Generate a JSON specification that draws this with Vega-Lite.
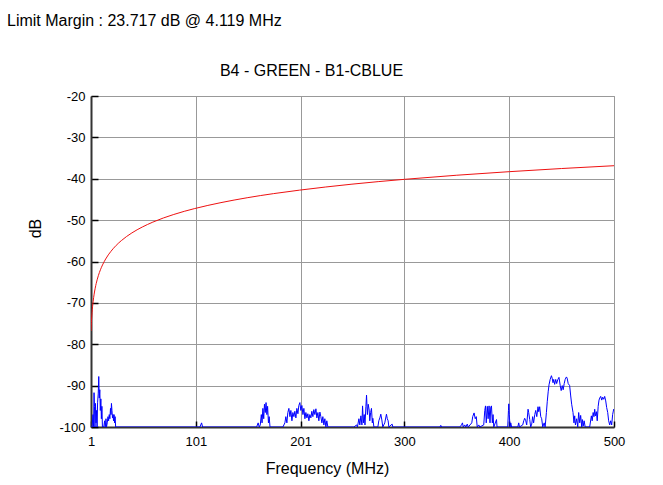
{
  "$schema": "https://vega.github.io/schema/vega-lite/v6.json",
  "width": 523,
  "height": 331,
  "autosize": {"type": "none"},
  "padding": {"left": 91, "top": 96, "right": 49, "bottom": 58},
  "background": "white",
  "title": {
    "text": "Limit Margin : 23.717 dB @ 4.119 MHz",
    "anchor": "start",
    "frame": "group",
    "dx": -84,
    "offset": 20,
    "baseline": "alphabetic",
    "font": "Liberation Sans",
    "fontSize": 16,
    "fontWeight": "normal",
    "color": "#000000"
  },
  "config": {
    "view": {"stroke": "#999999", "strokeWidth": 1},
    "axis": {
      "labelFont": "Liberation Sans",
      "labelFontSize": 13,
      "labelColor": "#000000",
      "titleFont": "Liberation Sans",
      "titleFontSize": 16,
      "titleFontWeight": "normal",
      "titleColor": "#000000"
    }
  },
  "datasets": {
    "limit": [
      {"f": 1, "dB": -76.8}, {"f": 1.25, "dB": -75.37}, {"f": 1.5, "dB": -74.19}, {"f": 2, "dB": -72.35},
      {"f": 2.5, "dB": -70.91}, {"f": 3, "dB": -69.74}, {"f": 4, "dB": -67.89}, {"f": 5, "dB": -66.46},
      {"f": 6, "dB": -65.28}, {"f": 8, "dB": -63.43}, {"f": 10, "dB": -62.0}, {"f": 12, "dB": -60.83},
      {"f": 15, "dB": -59.39}, {"f": 20, "dB": -57.55}, {"f": 25, "dB": -56.11}, {"f": 30, "dB": -54.94},
      {"f": 40, "dB": -53.09}, {"f": 50, "dB": -51.66}, {"f": 60, "dB": -50.48}, {"f": 80, "dB": -48.63},
      {"f": 100, "dB": -47.2}, {"f": 125, "dB": -45.77}, {"f": 150, "dB": -44.59}, {"f": 175, "dB": -43.6},
      {"f": 200, "dB": -42.75}, {"f": 250, "dB": -41.31}, {"f": 300, "dB": -40.14}, {"f": 350, "dB": -39.15},
      {"f": 400, "dB": -38.29}, {"f": 450, "dB": -37.53}, {"f": 500, "dB": -36.85}
    ],
    "trace": [
      {"f": 1, "dB": -100}, {"f": 2.0, "dB": -100}, {"f": 2.9, "dB": -97}, {"f": 3.4, "dB": -100},
      {"f": 3.9, "dB": -91.7}, {"f": 4.3, "dB": -95}, {"f": 4.8, "dB": -100}, {"f": 5.3, "dB": -94.3},
      {"f": 5.8, "dB": -99}, {"f": 6.3, "dB": -96}, {"f": 6.8, "dB": -100}, {"f": 7.3, "dB": -94},
      {"f": 7.9, "dB": -92}, {"f": 8.4, "dB": -87.8}, {"f": 8.9, "dB": -93}, {"f": 9.4, "dB": -91},
      {"f": 9.9, "dB": -96}, {"f": 10.4, "dB": -93.2}, {"f": 10.9, "dB": -98}, {"f": 11.4, "dB": -95},
      {"f": 11.9, "dB": -100}, {"f": 13.2, "dB": -100}, {"f": 14, "dB": -98.5}, {"f": 14.6, "dB": -100},
      {"f": 15.3, "dB": -98}, {"f": 15.8, "dB": -100}, {"f": 16.5, "dB": -99}, {"f": 17.2, "dB": -97.5},
      {"f": 17.8, "dB": -98.5}, {"f": 18.4, "dB": -97}, {"f": 19, "dB": -98}, {"f": 19.6, "dB": -95.5},
      {"f": 20.1, "dB": -97}, {"f": 20.5, "dB": -94.3}, {"f": 21, "dB": -96}, {"f": 21.5, "dB": -97.8},
      {"f": 22, "dB": -97}, {"f": 22.5, "dB": -98.5}, {"f": 23, "dB": -97}, {"f": 23.5, "dB": -99},
      {"f": 24, "dB": -97.5}, {"f": 24.5, "dB": -100}, {"f": 105, "dB": -100}, {"f": 106.5, "dB": -99},
      {"f": 107.5, "dB": -100}, {"f": 159, "dB": -100}, {"f": 160.5, "dB": -99}, {"f": 161.5, "dB": -100},
      {"f": 162.5, "dB": -99.5}, {"f": 163.5, "dB": -97}, {"f": 164.2, "dB": -99}, {"f": 165, "dB": -95.5},
      {"f": 165.8, "dB": -98}, {"f": 166.5, "dB": -94.5}, {"f": 167.3, "dB": -96.5}, {"f": 168, "dB": -94.1},
      {"f": 168.8, "dB": -97}, {"f": 169.5, "dB": -95}, {"f": 170.3, "dB": -99}, {"f": 171, "dB": -97.5},
      {"f": 171.8, "dB": -100}, {"f": 184.1, "dB": -100}, {"f": 186, "dB": -99}, {"f": 186.9, "dB": -97.5},
      {"f": 187.9, "dB": -99}, {"f": 188.8, "dB": -96.5}, {"f": 189.8, "dB": -95.5}, {"f": 190.8, "dB": -97.5},
      {"f": 191.7, "dB": -96}, {"f": 192.7, "dB": -98.5}, {"f": 193.6, "dB": -96.5}, {"f": 194.6, "dB": -97.5},
      {"f": 195.5, "dB": -96.2}, {"f": 196.5, "dB": -97.8}, {"f": 197.4, "dB": -95.5}, {"f": 198.4, "dB": -96.8},
      {"f": 199.3, "dB": -94.8}, {"f": 200.3, "dB": -94.1}, {"f": 201.2, "dB": -96}, {"f": 202.2, "dB": -94.8},
      {"f": 203.2, "dB": -97}, {"f": 204.1, "dB": -95.5}, {"f": 205.1, "dB": -98}, {"f": 206, "dB": -96.5},
      {"f": 207, "dB": -97.8}, {"f": 207.9, "dB": -96.8}, {"f": 208.9, "dB": -98.5}, {"f": 209.8, "dB": -97},
      {"f": 210.8, "dB": -97.8}, {"f": 211.7, "dB": -96.2}, {"f": 212.7, "dB": -97.5}, {"f": 213.6, "dB": -95.8},
      {"f": 214.6, "dB": -97}, {"f": 215.6, "dB": -95.6}, {"f": 216.5, "dB": -97.8}, {"f": 217.5, "dB": -96.5},
      {"f": 218.4, "dB": -98.5}, {"f": 219.4, "dB": -96.4}, {"f": 220.3, "dB": -97.5}, {"f": 221.3, "dB": -99},
      {"f": 222.2, "dB": -97.5}, {"f": 223.2, "dB": -99.5}, {"f": 224.1, "dB": -98}, {"f": 225.1, "dB": -100},
      {"f": 226, "dB": -98.5}, {"f": 227, "dB": -100}, {"f": 251.8, "dB": -100}, {"f": 254.4, "dB": -99.5},
      {"f": 255.2, "dB": -100}, {"f": 256.6, "dB": -98}, {"f": 257.5, "dB": -99.5}, {"f": 258.5, "dB": -97.3},
      {"f": 259.5, "dB": -99.5}, {"f": 260.1, "dB": -94.9}, {"f": 260.9, "dB": -99}, {"f": 261.7, "dB": -97},
      {"f": 262.4, "dB": -99.5}, {"f": 263.3, "dB": -95}, {"f": 263.9, "dB": -92.3}, {"f": 264.7, "dB": -97},
      {"f": 265.5, "dB": -94.5}, {"f": 266.4, "dB": -95.9}, {"f": 267, "dB": -98.5}, {"f": 267.8, "dB": -96.5},
      {"f": 268.6, "dB": -95.5}, {"f": 269.4, "dB": -99}, {"f": 269.9, "dB": -97.9}, {"f": 270.9, "dB": -100},
      {"f": 274.7, "dB": -100}, {"f": 275.6, "dB": -98.5}, {"f": 276.6, "dB": -97.8}, {"f": 277.5, "dB": -96.9},
      {"f": 278.5, "dB": -98.3}, {"f": 279.4, "dB": -100}, {"f": 281.3, "dB": -99}, {"f": 282.9, "dB": -96.9},
      {"f": 283.7, "dB": -98}, {"f": 284.5, "dB": -98.5}, {"f": 285.2, "dB": -100}, {"f": 288.3, "dB": -99.3},
      {"f": 289, "dB": -100}, {"f": 334, "dB": -100}, {"f": 334.7, "dB": -99.6}, {"f": 335.5, "dB": -100},
      {"f": 352.9, "dB": -100}, {"f": 354.5, "dB": -99.5}, {"f": 355.4, "dB": -99}, {"f": 356.2, "dB": -100},
      {"f": 357.6, "dB": -99.5}, {"f": 358.6, "dB": -100}, {"f": 360, "dB": -99.3}, {"f": 360.9, "dB": -100},
      {"f": 364.3, "dB": -99}, {"f": 365.2, "dB": -97.5}, {"f": 366.5, "dB": -96.6}, {"f": 367.6, "dB": -98},
      {"f": 368.6, "dB": -97.5}, {"f": 369.5, "dB": -100}, {"f": 371, "dB": -99.5}, {"f": 371.9, "dB": -100},
      {"f": 375.7, "dB": -99.5}, {"f": 376.7, "dB": -96}, {"f": 377.4, "dB": -94.9}, {"f": 378.1, "dB": -99},
      {"f": 379.1, "dB": -95}, {"f": 379.9, "dB": -98}, {"f": 380.8, "dB": -94.9}, {"f": 381.7, "dB": -99},
      {"f": 382.4, "dB": -95.2}, {"f": 383.1, "dB": -94.9}, {"f": 383.9, "dB": -99}, {"f": 384.6, "dB": -97},
      {"f": 385.3, "dB": -100}, {"f": 387.9, "dB": -98.2}, {"f": 388.4, "dB": -100}, {"f": 398.6, "dB": -100},
      {"f": 399.3, "dB": -96}, {"f": 399.6, "dB": -94.4}, {"f": 400.1, "dB": -97}, {"f": 400.8, "dB": -100},
      {"f": 401.5, "dB": -99}, {"f": 402.3, "dB": -100}, {"f": 408.2, "dB": -100}, {"f": 409.1, "dB": -99},
      {"f": 409.8, "dB": -100}, {"f": 412.9, "dB": -99.5}, {"f": 413.9, "dB": -98.5}, {"f": 414.8, "dB": -97.9},
      {"f": 415.8, "dB": -98.5}, {"f": 416.7, "dB": -99.5}, {"f": 418, "dB": -95.7}, {"f": 418.6, "dB": -96.5},
      {"f": 419.6, "dB": -98.2}, {"f": 420.5, "dB": -100}, {"f": 421.5, "dB": -99.3}, {"f": 422.4, "dB": -97.5},
      {"f": 423.3, "dB": -99}, {"f": 424.4, "dB": -97}, {"f": 425.3, "dB": -96}, {"f": 426.3, "dB": -97.5},
      {"f": 427.5, "dB": -95.1}, {"f": 428.2, "dB": -96.3}, {"f": 429.1, "dB": -95.1}, {"f": 430.1, "dB": -97.5},
      {"f": 431, "dB": -98}, {"f": 432, "dB": -100}, {"f": 433.4, "dB": -99}, {"f": 434.3, "dB": -100},
      {"f": 435.5, "dB": -96.5}, {"f": 436.3, "dB": -93.9}, {"f": 437.2, "dB": -91.5}, {"f": 438, "dB": -89.8},
      {"f": 439.1, "dB": -88.5}, {"f": 440.3, "dB": -87.6}, {"f": 441, "dB": -88.2}, {"f": 441.8, "dB": -89.3},
      {"f": 442.5, "dB": -88.5}, {"f": 443.4, "dB": -89.7}, {"f": 444.4, "dB": -88.5}, {"f": 445.3, "dB": -89.5},
      {"f": 446.3, "dB": -88.6}, {"f": 447.5, "dB": -88}, {"f": 448.7, "dB": -90}, {"f": 449.6, "dB": -91.2},
      {"f": 450.6, "dB": -90}, {"f": 451.5, "dB": -91}, {"f": 452.5, "dB": -89.5}, {"f": 453.4, "dB": -88.5},
      {"f": 454.6, "dB": -87.9}, {"f": 455.3, "dB": -88.2}, {"f": 456.3, "dB": -89.5}, {"f": 457.7, "dB": -90},
      {"f": 458.7, "dB": -92.5}, {"f": 459.6, "dB": -94.5}, {"f": 460.9, "dB": -96.5}, {"f": 461.8, "dB": -99},
      {"f": 462.5, "dB": -97.3}, {"f": 463.2, "dB": -99.5}, {"f": 464.4, "dB": -98}, {"f": 465.4, "dB": -100},
      {"f": 466.3, "dB": -96.5}, {"f": 467.3, "dB": -99}, {"f": 468.2, "dB": -97.2}, {"f": 469.2, "dB": -100},
      {"f": 469.8, "dB": -98.2}, {"f": 470.6, "dB": -99.8}, {"f": 471.5, "dB": -98.5}, {"f": 472.5, "dB": -100},
      {"f": 476.8, "dB": -100}, {"f": 478.4, "dB": -97.3}, {"f": 479.2, "dB": -98.5}, {"f": 480.1, "dB": -96.5},
      {"f": 480.9, "dB": -97.5}, {"f": 481.6, "dB": -95.7}, {"f": 482.3, "dB": -97.3}, {"f": 483.2, "dB": -96.3},
      {"f": 484, "dB": -98.5}, {"f": 484.9, "dB": -95}, {"f": 485.7, "dB": -93.5}, {"f": 486.4, "dB": -93},
      {"f": 487.3, "dB": -92.6}, {"f": 488.3, "dB": -93.5}, {"f": 489.2, "dB": -92.8}, {"f": 490.2, "dB": -93.3},
      {"f": 491.1, "dB": -92.6}, {"f": 492.1, "dB": -93.7}, {"f": 493, "dB": -95.3}, {"f": 494, "dB": -96.5},
      {"f": 494.9, "dB": -98.5}, {"f": 495.9, "dB": -99.5}, {"f": 496.8, "dB": -98.5}, {"f": 497.8, "dB": -99.5},
      {"f": 498.7, "dB": -97}, {"f": 499.7, "dB": -95.7}, {"f": 500, "dB": -96}
    ]
  },
  "resolve": {"axis": {"x": "independent"}},
  "layer": [
    {
      "data": {"name": "trace"},
      "mark": {"type": "line", "color": "#0000ff", "strokeWidth": 1, "clip": true},
      "encoding": {
        "x": {
          "field": "f",
          "type": "quantitative",
          "scale": {"domain": [1, 500], "nice": false, "zero": false},
          "axis": {
            "orient": "bottom",
            "values": [1, 101, 201, 300, 400, 500],
            "labelExpr": "'' + datum.value",
            "grid": true,
            "gridColor": "#999999",
            "gridWidth": 1,
            "gridOpacity": 1,
            "domainColor": "#333333",
            "domainWidth": 2,
            "ticks": true,
            "tickSize": -6,
            "tickColor": "#000000",
            "tickWidth": 1.5,
            "labelPadding": 14,
            "labelFlush": false,
            "title": "Frequency (MHz)",
            "titleX": 236,
            "titleY": 46,
            "titleAlign": "center",
            "titleBaseline": "alphabetic"
          }
        },
        "y": {
          "field": "dB",
          "type": "quantitative",
          "scale": {"domain": [-100, -20], "nice": false, "zero": false},
          "axis": {
            "values": [-100, -90, -80, -70, -60, -50, -40, -30, -20],
            "labelExpr": "'' + datum.value",
            "grid": true,
            "gridColor": "#999999",
            "gridWidth": 1,
            "gridOpacity": 1,
            "domainColor": "#333333",
            "domainWidth": 2,
            "ticks": true,
            "tickSize": -7,
            "tickColor": "#000000",
            "tickWidth": 1.5,
            "labelPadding": 13,
            "labelFlush": false,
            "title": "dB",
            "titleAngle": -90,
            "titleX": -56,
            "titleY": 132,
            "titleAlign": "center",
            "titleBaseline": "middle"
          }
        }
      }
    },
    {
      "data": {"name": "limit"},
      "mark": {"type": "line", "color": "#ee1111", "strokeWidth": 1, "interpolate": "monotone", "clip": true},
      "encoding": {
        "x": {
          "field": "f",
          "type": "quantitative",
          "scale": {"domain": [1, 500], "nice": false, "zero": false},
          "axis": {
            "orient": "top",
            "labels": false,
            "ticks": false,
            "domain": false,
            "grid": false,
            "title": "B4 - GREEN - B1-CBLUE",
            "titleX": 220,
            "titleY": -21,
            "titleAlign": "center",
            "titleBaseline": "alphabetic"
          }
        },
        "y": {
          "field": "dB",
          "type": "quantitative",
          "scale": {"domain": [-100, -20], "nice": false, "zero": false}
        }
      }
    }
  ]
}
